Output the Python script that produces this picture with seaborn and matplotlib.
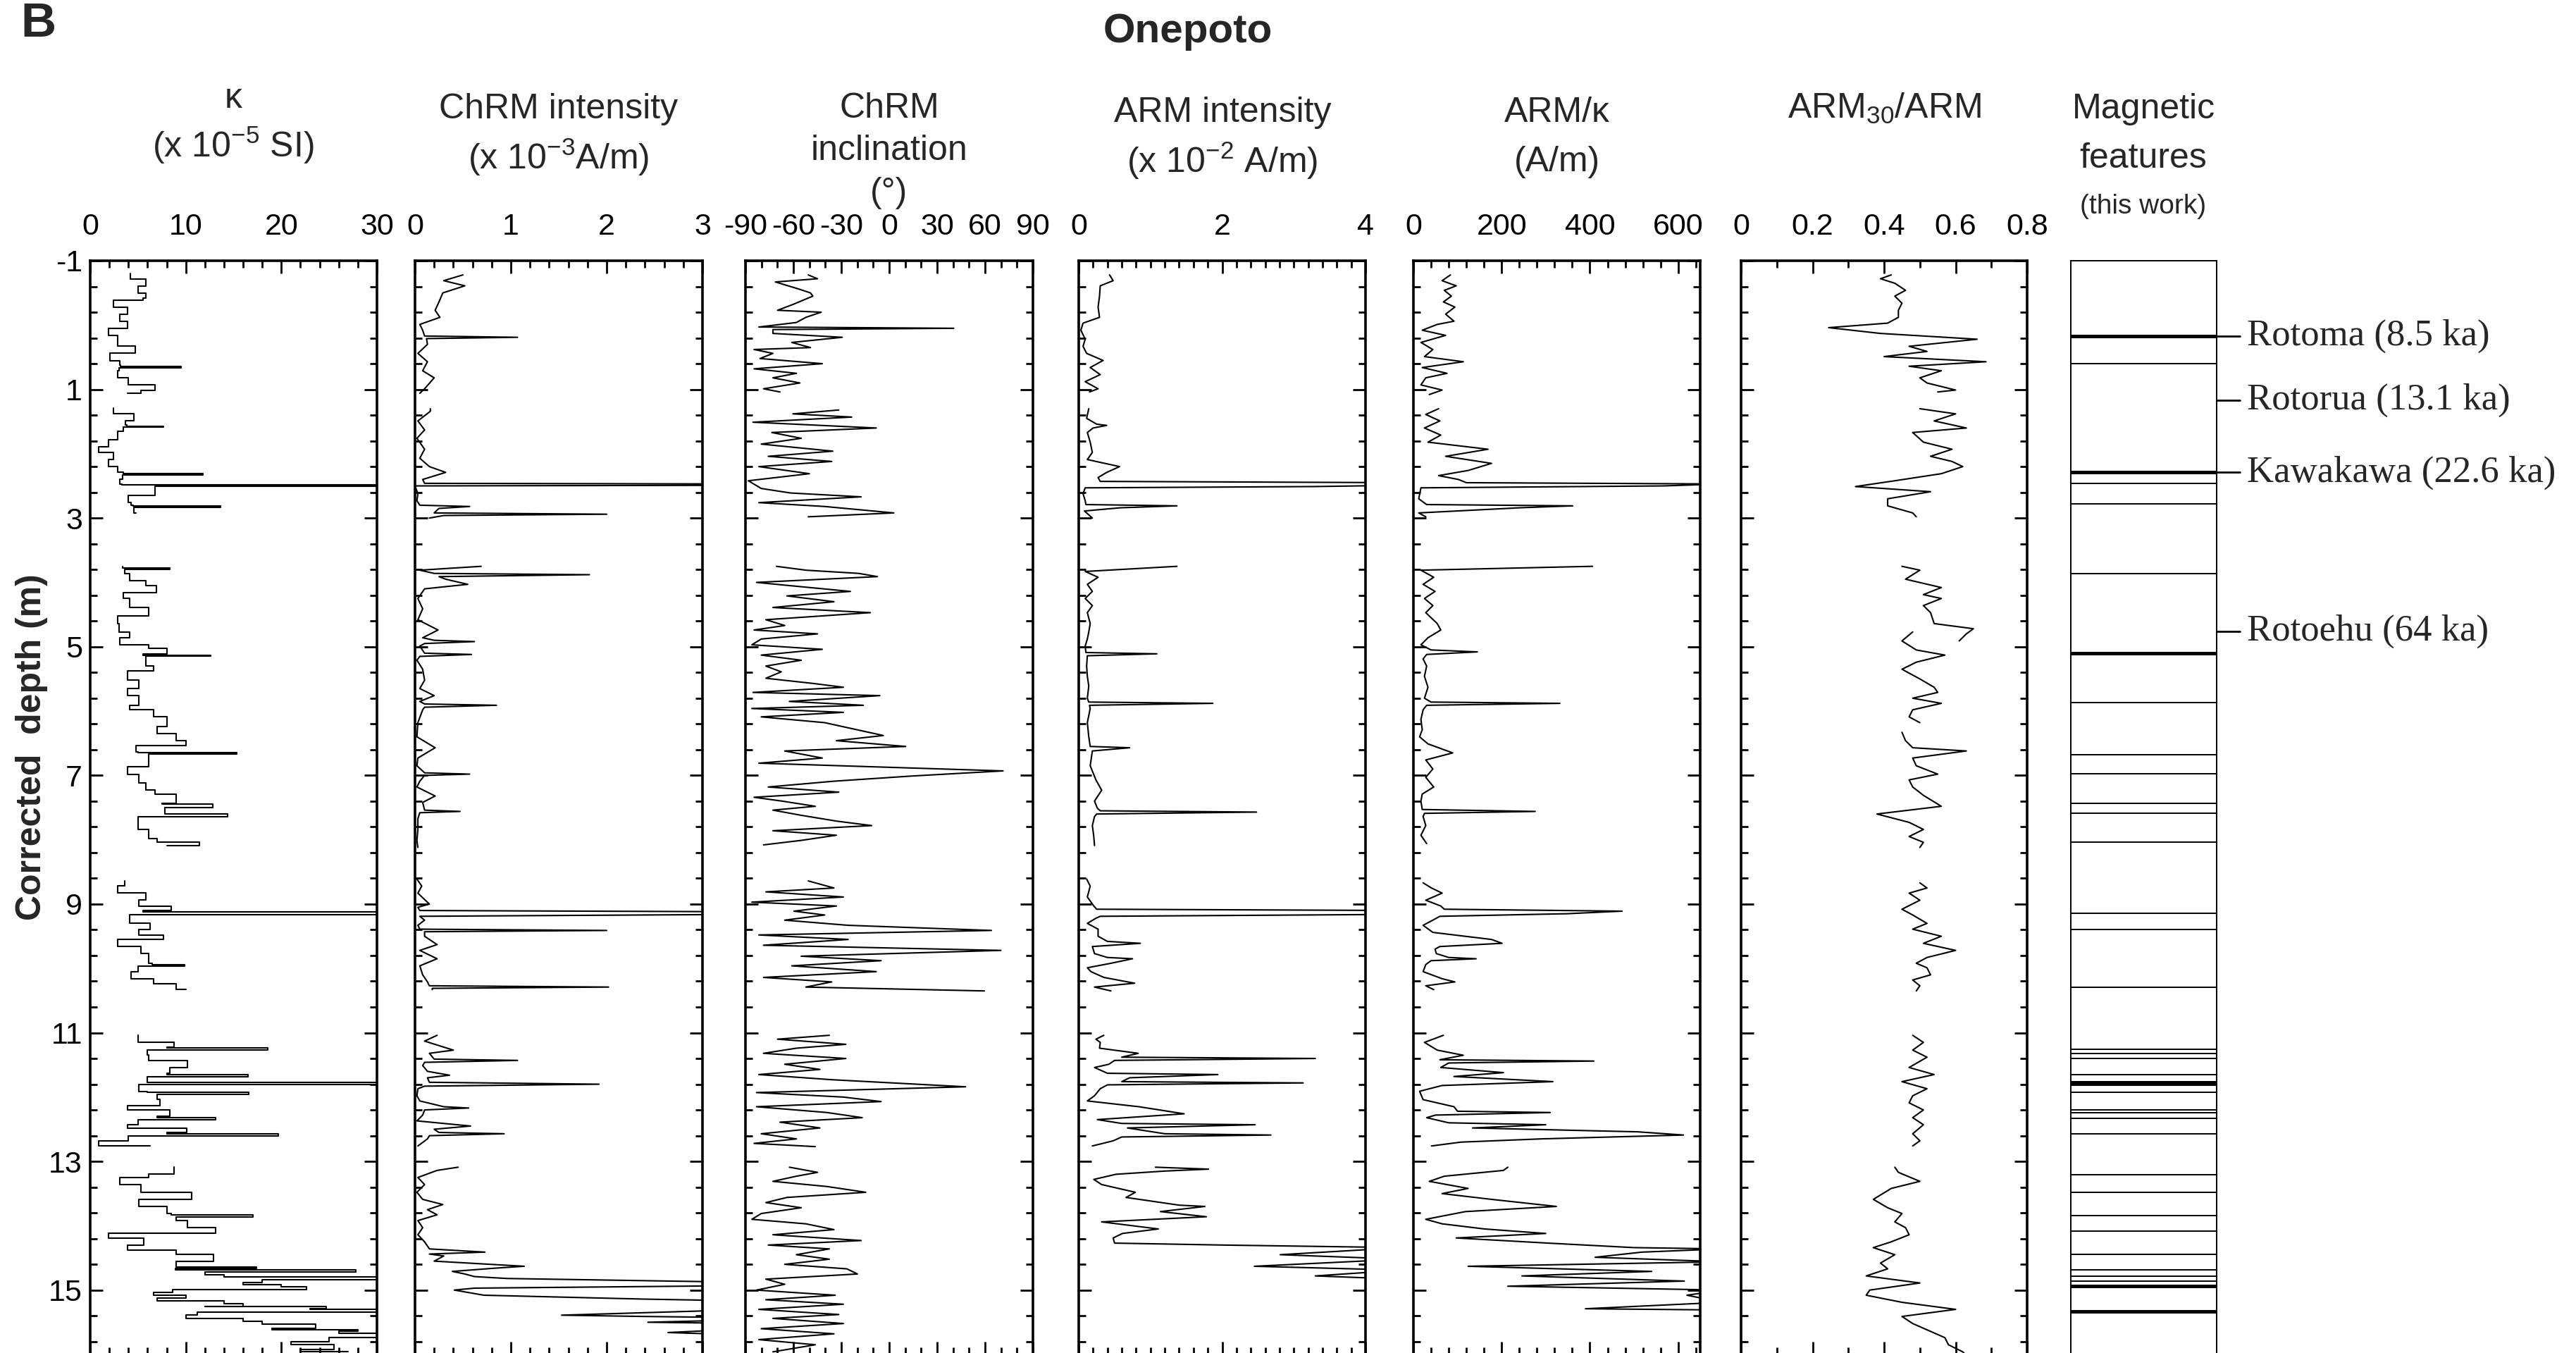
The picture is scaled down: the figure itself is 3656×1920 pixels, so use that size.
import numpy as np
import pandas as pd
import matplotlib
matplotlib.use("Agg")
import matplotlib.pyplot as plt
import matplotlib.transforms as mtransforms
from matplotlib.ticker import FixedLocator, MultipleLocator, FuncFormatter
import seaborn as sns

nan = np.nan

# ---------------- data (depth in m, NaN separates core sections) ----------------
kappa_depth = [-0.80, -0.72, -0.61, -0.50, -0.42, -0.39, -0.28, -0.17, -0.06, 0.05, 0.16, 0.33, 0.44, 0.55, 0.62, 0.64, 0.66,
               0.71, 0.82, 0.93, 1.01, 1.06, nan,
               1.29, 1.38, 1.49, 1.55, 1.57, 1.59, 1.65, 1.78, 1.89, 1.98, 2.09, 2.20, 2.29, 2.31, 2.33, 2.40,
               2.47, 2.48, 2.50, 2.51, 2.56, 2.65, 2.76, 2.80, 2.81, 2.83, 2.92, nan,
               3.75, 3.78, 3.80, 3.86, 3.97, 4.05, 4.16, 4.25, 4.39, 4.52, 4.64, 4.77, 4.86, 4.97, 5.02, 5.11, 5.13,
               5.15, 5.19, 5.30, 5.38, 5.52, 5.65, 5.76, 5.91, 5.98, 6.09, 6.24, 6.35, 6.46, 6.54, 6.63, 6.65, 6.67,
               6.76, 6.87, 6.98, 7.12, 7.23, 7.29, 7.43, 7.45, 7.50, 7.53, 7.60, 7.64, 7.71, 7.84, 7.98, 8.04, 8.09, nan,
               8.64, 8.72, 8.83, 8.94, 9.03, 9.10, 9.12, 9.14, 9.16, 9.22, 9.30, 9.39, 9.48, 9.55, 9.66, 9.77, 9.92,
               9.94, 9.97, 10.05, 10.16, 10.24, 10.33, nan,
               11.04, 11.15, 11.22, 11.24, 11.27, 11.35, 11.43, 11.54, 11.63, 11.65, 11.68, 11.76, 11.77, 11.79, 11.81,
               11.84, 11.91, 11.93, 11.96, 12.04, 12.13, 12.20, 12.30, 12.32, 12.35, 12.43, 12.48, 12.55, 12.57, 12.60,
               12.68, 12.76, nan,
               13.09, 13.20, 13.25, 13.36, 13.48, 13.59, 13.70, 13.81, 13.83, 13.86, 13.92, 14.03, 14.12, 14.19, 14.30,
               14.38, 14.45, 14.55, 14.62, 14.64, 14.66, 14.69, 14.72, 14.76, 14.79, 14.81, 14.84, 14.88, 14.92, 14.95,
               14.99, 15.04, 15.08, 15.12, 15.17, 15.21, 15.25, 15.26, 15.29, 15.30, 15.32, 15.34, 15.39, 15.44, 15.48,
               15.53, 15.59, 15.62, 15.64, 15.67, 15.68, 15.70, 15.74, 15.80, 15.85, 15.92, 15.96]
kappa_vals = [4.2, 5.8, 5.0, 5.8, 5.5, 2.4, 3.9, 3.1, 3.9, 1.9, 2.9, 4.7, 2.1, 3.1, 3.2, 9.5, 3.0,
              2.9, 4.0, 6.8, 5.3, 3.9, nan,
              2.4, 4.6, 3.7, 3.8, 7.7, 3.5, 2.9, 1.9, 0.9, 2.4, 1.9, 2.9, 3.5, 11.8, 3.4, 3.1,
              3.3, 45, 45, 6.8, 6.8, 4.0, 4.3, 4.5, 13.6, 4.6, 4.8, nan,
              3.4, 8.3, 3.6, 4.1, 5.8, 6.9, 3.5, 4.1, 6.1, 2.9, 3.0, 4.1, 3.1, 6.1, 8.0, 5.5, 12.6,
              5.8, 5.8, 6.6, 3.9, 5.1, 3.9, 5.1, 4.1, 6.6, 8.0, 7.0, 9.0, 10.0, 4.8, 5.0, 15.3, 6.1,
              6.1, 3.9, 5.1, 5.8, 6.8, 9.0, 7.5, 12.8, 7.8, 7.8, 14.4, 5.0, 5.0, 6.1, 7.0, 11.4, 8.0, nan,
              3.6, 2.9, 5.8, 5.1, 8.5, 5.5, 45, 45, 4.1, 4.1, 6.3, 5.1, 7.7, 2.9, 5.3, 6.1, 6.5,
              9.9, 5.0, 4.3, 6.6, 9.0, 10.0, nan,
              5.0, 8.8, 8.0, 18.6, 6.0, 6.1, 10.2, 8.3, 8.0, 16.5, 6.0, 6.0, 45, 45, 5.1,
              5.1, 6.0, 16.6, 7.0, 7.3, 3.9, 8.3, 7.0, 13.1, 5.0, 3.9, 10.1, 8.0, 19.7, 4.0,
              0.9, 6.3, nan,
              8.8, 6.1, 3.1, 5.3, 10.6, 5.1, 8.0, 8.5, 17.0, 9.0, 10.2, 13.1, 1.9, 5.6, 3.9,
              9.0, 12.9, 9.0, 9.0, 17.4, 8.9, 27.8, 12.0, 14.0, 45, 45, 18.0, 16.0, 20.0, 22.6,
              8.6, 6.6, 10.0, 7.0, 14.0, 16.0, 12.0, 24.7, 23.0, 45, 45, 11.2, 10.0, 16.0, 18.0,
              23.6, 19.0, 28.0, 26.0, 30.0, 45, 45, 25.0, 21.0, 25.5, 22.0, 27.0]

chrm_int_depth = [-0.78, -0.69, -0.61, -0.50, -0.36, -0.23, -0.12, -0.01, 0.08, 0.17, 0.19, 0.21, 0.30, 0.44, 0.57,
                  0.71, 0.82, 0.99, 1.06, nan,
                  1.30, 1.34, 1.49, 1.63, 1.76, 1.93, 2.07, 2.20, 2.29, 2.40, 2.46, 2.47, 2.49, 2.50, 2.62,
                  2.73, 2.80, 2.82, 2.85, 2.92, 2.94, 2.96, 3.00, nan,
                  3.75, 3.81, 3.86, 3.88, 3.91, 3.95, 4.03, 4.10, 4.25, 4.41, 4.58, 4.74, 4.86, 4.90, 4.92, 4.95,
                  4.99, 5.10, 5.12, 5.15, 5.21, 5.35, 5.52, 5.65, 5.76, 5.85, 5.89, 5.91, 5.94, 5.98, 6.18, 6.40,
                  6.57, 6.73, 6.85, 6.96, 6.98, 7.00, 7.09, 7.18, 7.32, 7.42, 7.54, 7.56, 7.58, 7.67, 7.84, 8.01,
                  8.12, nan,
                  8.61, 8.72, 8.83, 9.00, 9.05, 9.10, 9.12, 9.16, 9.19, 9.25, 9.33, 9.39, 9.41, 9.43, 9.50, 9.63,
                  9.72, 9.85, 9.96, 10.10, 10.21, 10.27, 10.29, 10.31, 10.33, nan,
                  11.04, 11.13, 11.27, 11.32, 11.41, 11.43, 11.46, 11.51, 11.60, 11.66, 11.70, 11.77, 11.80, 11.83,
                  11.87, 11.98, 12.06, 12.15, 12.17, 12.20, 12.28, 12.37, 12.45, 12.50, 12.55, 12.57, 12.60, 12.65,
                  12.76, nan,
                  13.09, 13.14, 13.25, 13.36, 13.48, 13.59, 13.67, 13.75, 13.83, 13.92, 14.03, 14.14, 14.25, 14.36,
                  14.41, 14.44, 14.47, 14.55, 14.63, 14.66, 14.71, 14.75, 14.79, 14.82, 14.88, 14.93, 14.97, 15.00,
                  15.08, 15.14, 15.17, 15.28, 15.39, 15.41, 15.43, 15.46, 15.50, 15.52, 15.60, 15.66, 15.70, 15.90]
chrm_int_vals = [0.50, 0.30, 0.52, 0.29, 0.25, 0.21, 0.26, 0.05, 0.08, 0.10, 1.07, 0.12, 0.13, 0.03, 0.13,
                 0.08, 0.20, 0.10, 0.05, nan,
                 0.16, 0.16, 0.03, 0.10, 0.02, 0.10, 0.05, 0.15, 0.32, 0.08, 0.10, 3.5, 3.5, 0.0, 0.03,
                 0.02, 0.05, 0.57, 0.25, 0.20, 2.0, 0.30, 0.15, nan,
                 0.69, 0.05, 0.20, 1.82, 0.25, 0.32, 0.55, 0.10, 0.03, 0.08, 0.03, 0.24, 0.08, 0.20, 0.62, 0.10,
                 0.05, 0.10, 0.59, 0.05, 0.02, 0.08, 0.10, 0.05, 0.20, 0.05, 0.10, 0.85, 0.10, 0.08, 0.03, 0.02,
                 0.21, 0.03, 0.02, 0.10, 0.57, 0.10, 0.05, 0.02, 0.21, 0.08, 0.10, 0.47, 0.05, 0.03, 0.03, 0.02,
                 0.03, nan,
                 0.02, 0.07, 0.03, 0.15, 0.03, 0.05, 3.5, 3.5, 0.05, 0.10, 0.03, 0.05, 2.0, 0.10, 0.10, 0.23,
                 0.05, 0.23, 0.05, 0.08, 0.13, 0.15, 2.02, 0.18, 0.18, nan,
                 0.23, 0.10, 0.40, 0.15, 0.20, 1.07, 0.10, 0.08, 0.13, 0.36, 0.13, 0.15, 1.92, 0.10,
                 0.03, 0.02, 0.05, 0.30, 0.56, 0.10, 0.08, 0.02, 0.58, 0.20, 0.25, 0.93, 0.15, 0.13,
                 0.03, nan,
                 0.45, 0.23, 0.03, 0.10, 0.02, 0.08, 0.29, 0.13, 0.23, 0.03, 0.08, 0.03, 0.10, 0.15,
                 0.73, 0.15, 0.30, 0.20, 1.14, 0.83, 0.39, 0.52, 0.62, 0.96, 3.5, 3.5, 0.62, 0.41,
                 0.72, 2.38, 3.5, 4.0, 1.53, 2.38, 3.5, 3.5, 2.43, 3.5, 3.5, 2.64, 3.5, 3.5]

incl_depth = [-0.78, -0.72, -0.67, -0.56, -0.50, -0.45, -0.32, -0.23, -0.20, -0.12, -0.04, 0.03, 0.05, 0.07, 0.13,
              0.19, 0.27, 0.35, 0.38, 0.44, 0.52, 0.60, 0.68, 0.75, 0.82, 0.90, 0.99, 1.04, nan,
              1.32, 1.38, 1.43, 1.51, 1.60, 1.67, 1.76, 1.85, 1.96, 2.04, 2.12, 2.20, 2.31, 2.42, 2.54, 2.61, 2.67,
              2.76, 2.82, 2.92, 2.98, nan,
              3.75, 3.81, 3.86, 3.91, 4.00, 4.06, 4.14, 4.21, 4.30, 4.39, 4.47, 4.58, 4.67, 4.74, 4.80, 4.88, 4.97,
              5.04, 5.13, 5.21, 5.30, 5.39, 5.49, 5.57, 5.63, 5.71, 5.76, 5.85, 5.91, 5.96, 6.02, 6.09, 6.18, 6.38,
              6.46, 6.55, 6.62, 6.73, 6.81, 6.87, 6.93, 7.01, 7.09, 7.18, 7.26, 7.34, 7.40, 7.48, 7.54, 7.62, 7.71,
              7.78, 7.86, 7.93, 8.01, 8.08, nan,
              8.64, 8.75, 8.81, 8.89, 8.97, 9.03, 9.11, 9.17, 9.25, 9.33, 9.41, 9.48, 9.55, 9.64, 9.72, 9.81, 9.88,
              9.96, 10.05, 10.14, 10.21, 10.29, 10.35, nan,
              11.04, 11.10, 11.18, 11.24, 11.32, 11.40, 11.49, 11.57, 11.65, 11.73, 11.84, 11.93, 12.00, 12.07,
              12.15, 12.24, 12.32, 12.39, 12.48, 12.57, 12.65, 12.72, 12.77, nan,
              13.09, 13.17, 13.23, 13.31, 13.39, 13.48, 13.56, 13.64, 13.72, 13.81, 13.90, 13.97, 14.06, 14.14,
              14.23, 14.30, 14.36, 14.45, 14.52, 14.60, 14.67, 14.75, 14.83, 14.91, 15.00, 15.08, 15.15, 15.22,
              15.30, 15.38, 15.44, 15.52, 15.60, 15.68, 15.77, 15.85, 15.96]
incl_vals = [-50.7, -44.9, -71.3, -56.6, -49.3, -47.8, -60.3, -69.9, -42.6, -52.2, -58.1, -81.6, 40.4, -72.8, -72.8,
             -29.4, -61.0, -49.3, -84.6, -72.8, -80.9, -41.9, -84.6, -58.1, -72.8, -55.9, -78.7, -68.4, nan,
             -31.6, -60.3, -23.5, -85.3, -8.1, -73.5, -55.1, -80.1, -35.3, -75.7, -36.0, -81.6, -50.0, -88.2, -80.1,
             -61.8, -17.6, -81.6, -40.4, 2.9, -50.7, nan,
             -70.6, -52.2, -19.1, -7.4, -83.1, -58.1, -24.3, -64.0, -34.6, -72.8, -11.8, -77.2, -65.4, -84.6, -44.9,
             -80.1, -86.0, -41.9, -80.1, -55.1, -77.2, -67.6, -77.2, -47.8, -28.7, -85.3, -5.9, -62.5, -16.2, -86.0,
             -28.7, -80.1, -40.4, -3.7, -33.1, 10.3, -65.4, -41.9, -81.6, -5.1, 71.3, 14.0, -34.6, -75.7, -31.6,
             -84.6, -66.9, -46.3, -72.8, -55.1, -33.1, -11.0, -72.8, -33.1, -55.1, -78.7, nan,
             -50.7, -34.6, -77.2, -28.7, -86.0, -33.1, -59.6, -40.4, -65.4, -25.7, 64.0, -81.6, -25.7, -78.7, 69.9,
             -55.1, -5.1, -61.0, -8.1, -78.7, -36.0, -52.2, 59.6, nan,
             -37.5, -69.9, -27.2, -58.1, -78.7, -27.2, -65.4, -43.4, -81.6, -36.0, 47.8, -83.1, -28.7, -5.1,
             -83.1, -39.0, -16.9, -68.4, -43.4, -80.1, -58.1, -84.6, -46.3, nan,
             -62.5, -44.9, -58.1, -72.8, -39.0, -14.7, -64.0, -77.2, -55.1, -80.1, -86.0, -52.2, -34.6, -72.8,
             -17.6, -75.7, -37.5, -58.1, -37.5, -65.4, -26.5, -19.9, -77.2, -65.4, -83.1, -33.8, -77.2, -28.7,
             -81.6, -31.6, -72.8, -28.7, -80.1, -34.6, -81.6, -46.3, -72.8]

arm_depth = [-0.78, -0.69, -0.61, -0.45, -0.28, -0.12, -0.03, 0.08, 0.22, 0.33, 0.44, 0.55, 0.66, 0.77, 0.88, 0.99,
             1.04, nan,
             1.30, 1.45, 1.54, 1.56, 1.60, 1.67, 1.82, 1.98, 2.09, 2.20, 2.29, 2.37, 2.43, 2.45, 2.49, 2.51, 2.53,
             2.62, 2.73, 2.79, 2.81, 2.84, 2.89, 3.00, nan,
             3.75, 3.83, 3.92, 4.03, 4.14, 4.25, 4.36, 4.47, 4.64, 4.77, 4.88, 4.99, 5.09, 5.11, 5.14, 5.30, 5.46,
             5.61, 5.80, 5.86, 5.88, 5.91, 5.96, 6.18, 6.40, 6.55, 6.57, 6.62, 6.85, 7.07, 7.23, 7.40, 7.51, 7.55,
             7.57, 7.60, 7.64, 7.78, 7.95, 8.09, nan,
             8.61, 8.72, 8.89, 9.03, 9.08, 9.10, 9.16, 9.19, 9.22, 9.30, 9.39, 9.50, 9.58, 9.61, 9.66, 9.77, 9.83,
             9.85, 9.92, 9.99, 10.05, 10.14, 10.23, 10.29, 10.35, nan,
             11.04, 11.10, 11.15, 11.24, 11.32, 11.38, 11.40, 11.43, 11.49, 11.54, 11.63, 11.65, 11.70, 11.76,
             11.78, 11.81, 11.87, 11.98, 12.06, 12.15, 12.26, 12.35, 12.41, 12.43, 12.48, 12.57, 12.59, 12.62,
             12.68, 12.76, nan,
             13.09, 13.12, 13.15, 13.20, 13.28, 13.36, 13.48, 13.56, 13.68, 13.70, 13.78, 13.86, 13.94, 14.05,
             14.12, 14.19, 14.27, 14.30, 14.34, 14.45, 14.52, 14.63, 14.69, 14.78, 14.83]
arm_vals = [0.43, 0.48, 0.30, 0.29, 0.27, 0.29, 0.06, 0.03, 0.09, 0.06, 0.11, 0.34, 0.16, 0.30, 0.09, 0.27,
            0.15, nan,
            0.14, 0.11, 0.25, 0.39, 0.20, 0.12, 0.16, 0.19, 0.12, 0.57, 0.39, 0.27, 0.30, 4.5, 4.5, 3.3, 0.09,
            0.06, 0.09, 0.10, 1.37, 0.58, 0.08, 0.19, nan,
            1.37, 0.09, 0.27, 0.12, 0.19, 0.09, 0.19, 0.12, 0.16, 0.14, 0.12, 0.09, 0.10, 1.09, 0.12, 0.11, 0.12,
            0.14, 0.12, 0.14, 1.87, 0.15, 0.16, 0.12, 0.14, 0.16, 0.71, 0.19, 0.16, 0.24, 0.32, 0.22, 0.26, 0.30,
            2.48, 0.25, 0.22, 0.19, 0.21, 0.22, nan,
            0.11, 0.16, 0.12, 0.21, 0.25, 4.5, 4.5, 0.30, 0.24, 0.12, 0.27, 0.27, 0.40, 0.86, 0.19, 0.22, 0.40,
            0.75, 0.45, 0.12, 0.17, 0.35, 0.78, 0.22, 0.45, nan,
            0.35, 0.24, 0.30, 0.29, 0.83, 0.60, 3.30, 0.50, 0.42, 0.22, 0.40, 1.94, 0.71, 0.60,
            3.13, 0.40, 0.30, 0.22, 0.12, 0.84, 1.47, 0.26, 0.60, 2.46, 0.68, 1.20, 2.68, 0.60,
            0.48, 0.19, nan,
            1.07, 1.81, 1.20, 0.52, 0.21, 0.32, 0.79, 0.66, 1.40, 1.76, 1.14, 1.78, 0.32, 1.11,
            0.61, 0.48, 0.50, 2.0, 4.5, 2.81, 4.5, 2.45, 4.5, 3.30, 4.5]

armk_depth = [-0.78, -0.69, -0.61, -0.54, -0.45, -0.36, -0.28, -0.17, -0.06, -0.01, 0.08, 0.16, 0.27, 0.38, 0.49,
              0.57, 0.66, 0.75, 0.82, 0.93, 1.01, 1.08, nan,
              1.30, 1.39, 1.49, 1.60, 1.71, 1.82, 1.93, 2.04, 2.15, 2.26, 2.34, 2.40, 2.45, 2.47, 2.50, 2.53, 2.70,
              2.79, 2.81, 2.84, 2.92, 2.98, nan,
              3.75, 3.81, 3.92, 4.03, 4.14, 4.25, 4.36, 4.47, 4.64, 4.74, 4.86, 4.97, 5.05, 5.08, 5.12, 5.19, 5.30,
              5.46, 5.63, 5.80, 5.86, 5.88, 5.91, 5.98, 6.13, 6.29, 6.40, 6.51, 6.65, 6.76, 6.90, 7.03, 7.18, 7.29,
              7.40, 7.53, 7.56, 7.59, 7.64, 7.78, 7.93, 8.06, nan,
              8.67, 8.75, 8.83, 8.94, 9.03, 9.08, 9.11, 9.15, 9.19, 9.25, 9.33, 9.44, 9.55, 9.61, 9.66, 9.70, 9.77,
              9.83, 9.85, 9.88, 9.94, 10.05, 10.16, 10.21, 10.27, 10.33, nan,
              11.04, 11.15, 11.27, 11.35, 11.42, 11.44, 11.47, 11.54, 11.62, 11.68, 11.76, 11.82, 11.91, 12.04,
              12.15, 12.22, 12.24, 12.28, 12.32, 12.40, 12.43, 12.48, 12.54, 12.59, 12.65, 12.70, 12.76, nan,
              13.09, 13.14, 13.23, 13.31, 13.42, 13.50, 13.59, 13.70, 13.78, 13.90, 13.97, 14.05, 14.12, 14.19,
              14.27, 14.34, 14.36, 14.41, 14.49, 14.56, 14.63, 14.71, 14.78, 14.86, 14.94, 15.00, 15.08, 15.19,
              15.29, 15.31]
armk_vals = [84, 65, 97, 70, 86, 68, 94, 73, 92, 54, 20, 73, 17, 44, 25,
             113, 20, 76, 28, 17, 65, 36, nan,
             57, 28, 60, 25, 62, 33, 169, 73, 177, 124, 57, 102, 120, 700, 566, 17, 12,
             30, 361, 241, 12, 28, nan,
             406, 17, 46, 22, 49, 25, 44, 28, 54, 62, 33, 17, 40, 145, 30, 22, 30,
             25, 33, 25, 40, 332, 30, 22, 17, 20, 14, 33, 89, 28, 44, 28, 46, 20,
             17, 20, 276, 25, 22, 28, 17, 30, nan,
             22, 41, 65, 28, 62, 70, 473, 348, 60, 44, 22, 44, 177, 201, 60, 49, 52,
             80, 142, 40, 28, 22, 65, 94, 28, 46, nan,
             68, 25, 54, 113, 60, 409, 80, 62, 204, 92, 316, 65, 14, 22,
             92, 100, 310, 50, 30, 80, 300, 134, 508, 612, 289, 108, 41, nan,
             214, 204, 70, 36, 124, 65, 177, 324, 118, 28, 65, 161, 300, 97,
             305, 500, 700, 518, 412, 700, 124, 540, 246, 614, 214, 700, 620, 700,
             390, 700]

arm30_depth = [-0.78, -0.72, -0.65, -0.54, -0.45, -0.34, -0.23, -0.12, -0.03, 0.04, 0.13, 0.22, 0.33, 0.41, 0.49,
               0.57, 0.64, 0.71, 0.82, 0.90, 1.01, 1.04, nan,
               1.30, 1.38, 1.49, 1.60, 1.67, 1.82, 1.93, 2.04, 2.12, 2.20, 2.31, 2.42, 2.51, 2.59, 2.70, 2.81, 2.92,
               2.98, nan,
               3.75, 3.81, 3.95, 4.08, 4.19, 4.25, 4.36, 4.47, 4.64, 4.72, 4.80, 4.91, nan,
               4.77, 4.91, 5.05, 5.13, 5.24, 5.35, 5.50, 5.63, 5.71, 5.80, 5.88, 5.98, 6.09, 6.18, nan,
               6.33, 6.46, 6.57, 6.62, 6.73, 6.85, 6.98, 7.07, 7.18, 7.31, 7.48, 7.60, 7.73, 7.84, 7.95, 8.04, 8.12, nan,
               8.67, 8.75, 8.83, 8.94, 9.08, 9.17, 9.30, 9.39, 9.50, 9.61, 9.72, 9.83, 9.92, 9.99, 10.10, 10.18,
               10.27, 10.35, nan,
               11.04, 11.15, 11.27, 11.38, 11.54, 11.65, 11.76, 11.87, 11.98, 12.09, 12.20, 12.32, 12.43, 12.57,
               12.68, 12.76, nan,
               13.09, 13.17, 13.31, 13.42, 13.59, 13.72, 13.81, 13.94, 14.03, 14.14, 14.25, 14.34, 14.45, 14.58,
               14.67, 14.78, 14.89, 15.00, 15.08, 15.19, 15.30, 15.41, 15.52, 15.74, 15.85, 15.96, 16.07]
arm30_vals = [0.42, 0.39, 0.43, 0.46, 0.43, 0.45, 0.44, 0.44, 0.41, 0.245, 0.39, 0.66, 0.47, 0.52, 0.40,
              0.685, 0.47, 0.56, 0.50, 0.52, 0.60, 0.55, nan,
              0.50, 0.60, 0.54, 0.63, 0.48, 0.51, 0.59, 0.53, 0.59, 0.62, 0.56, 0.43, 0.32, 0.53, 0.41, 0.41, 0.48,
              0.49, nan,
              0.45, 0.50, 0.46, 0.56, 0.51, 0.56, 0.51, 0.53, 0.54, 0.65, 0.63, 0.61, nan,
              0.48, 0.45, 0.49, 0.57, 0.49, 0.45, 0.50, 0.54, 0.55, 0.48, 0.56, 0.48, 0.47, 0.50, nan,
              0.45, 0.46, 0.48, 0.63, 0.48, 0.49, 0.55, 0.47, 0.48, 0.51, 0.56, 0.38, 0.47, 0.51, 0.47, 0.51, 0.50, nan,
              0.50, 0.52, 0.47, 0.50, 0.45, 0.48, 0.52, 0.48, 0.56, 0.51, 0.60, 0.52, 0.49, 0.52, 0.53, 0.48,
              0.50, 0.49, nan,
              0.48, 0.51, 0.48, 0.52, 0.47, 0.54, 0.45, 0.52, 0.48, 0.47, 0.51, 0.48, 0.51, 0.48,
              0.50, 0.48, nan,
              0.43, 0.44, 0.50, 0.42, 0.37, 0.41, 0.45, 0.43, 0.46, 0.47, 0.42, 0.37, 0.43, 0.39,
              0.41, 0.35, 0.50, 0.36, 0.35, 0.45, 0.60, 0.45, 0.48, 0.57, 0.58, 0.62, 0.64]

feature_thin = [0.60, 2.46, 2.78, 3.86, 5.87, 6.68, 6.97, 7.43, 7.59, 8.04, 9.14, 9.40, 10.29, 11.26, 11.32, 11.40,
                11.65, 11.82, 11.93, 12.20, 12.24, 12.33, 12.57, 13.21, 13.48, 13.84, 14.08, 14.44, 14.69, 14.78,
                14.86]
feature_thick = [0.17, 2.29, 5.10, 11.77, 14.94, 15.33]
tephra_names = ["Rotoma (8.5 ka)", "Rotorua (13.1 ka)", "Kawakawa (22.6 ka)", "Rotoehu (64 ka)"]
tephra_depths = [0.17, 1.17, 2.29, 4.76]

# ---------------- style ----------------
sns.set_style("ticks")
plt.rcParams["font.family"] = ["Liberation Sans", "DejaVu Sans"]
plt.rcParams["mathtext.fontset"] = "custom"
plt.rcParams["mathtext.rm"] = "Liberation Sans"
plt.rcParams["mathtext.it"] = "Liberation Sans:italic"
plt.rcParams["mathtext.bf"] = "Liberation Sans:bold"
plt.rcParams["axes.unicode_minus"] = False

W, H = 3656, 1920
DPI = 200
fig = plt.figure(figsize=(W / DPI, H / DPI), dpi=DPI)
fig.patch.set_facecolor("white")

TOP, BOT = 370, 1922
panels_px = [(128, 535), (589, 997), (1058, 1466), (1531, 1938), (2006, 2413), (2471, 2877), (2939, 3146)]


def make_ax(l, r):
    return fig.add_axes([l / W, 1 - BOT / H, (r - l) / W, (BOT - TOP) / H])


def draw(ax, depth, vals, **kw):
    d = np.asarray(depth, float)
    v = np.asarray(vals, float)
    seg = np.cumsum(np.isnan(d))
    m = ~np.isnan(d)
    df = pd.DataFrame({"depth": d[m], "val": v[m], "seg": seg[m]})
    sns.lineplot(data=df, x="val", y="depth", units="seg", estimator=None, sort=False,
                 color="black", linewidth=0.75, ax=ax, legend=False, **kw)


series = [(kappa_depth, kappa_vals, (0, 30), 10, 2, {"drawstyle": "steps-pre"}),
          (chrm_int_depth, chrm_int_vals, (0, 3), 1, 0.2, {}),
          (incl_depth, incl_vals, (-90, 90), 30, 10, {}),
          (arm_depth, arm_vals, (0, 4), 2, 0.2, {}),
          (armk_depth, armk_vals, (0, 650), 200, 40, {}),
          (arm30_depth, arm30_vals, (0, 0.8), 0.2, 0.1, {})]

fmt = FuncFormatter(lambda v, p: f"{v:g}")
axes = []
for i, (dep, val, xl, maj, mnr, kw) in enumerate(series):
    l, r = panels_px[i]
    ax = make_ax(l, r)
    draw(ax, dep, val, **kw)
    ax.set_xlim(*xl)
    ax.set_ylim(16, -1)
    ax.set_xlabel("")
    ax.set_ylabel("")
    ax.xaxis.set_major_locator(MultipleLocator(maj))
    ax.xaxis.set_minor_locator(MultipleLocator(mnr))
    ax.xaxis.set_major_formatter(fmt)
    ax.yaxis.set_major_locator(FixedLocator(np.arange(-1, 16, 2)))
    ax.yaxis.set_minor_locator(FixedLocator(np.arange(-1, 16.01, 0.4)))
    ax.tick_params(axis="both", which="both", direction="in", top=True, bottom=True, left=True, right=True,
                   width=1.0, colors="black")
    ax.tick_params(axis="both", which="major", length=6.5)
    ax.tick_params(axis="both", which="minor", length=3.5)
    ax.tick_params(axis="x", labeltop=True, labelbottom=False, labelsize=15.5, pad=10)
    ax.tick_params(axis="y", labelleft=(i == 0), labelright=False, labelsize=15.5, pad=4)
    for s in ax.spines.values():
        s.set_linewidth(1.3)
        s.set_color("black")
    ax.set_facecolor("white")
    axes.append(ax)

# magnetic features column
l, r = panels_px[6]
ax7 = make_ax(l, r)
for group, lw in ((feature_thin, 0.7), (feature_thick, 1.8)):
    dfl = pd.DataFrame({"x": np.tile([0.0, 1.0], len(group)),
                        "depth": np.repeat(group, 2),
                        "u": np.repeat(np.arange(len(group)), 2)})
    sns.lineplot(data=dfl, x="x", y="depth", units="u", estimator=None, sort=False,
                 color="black", linewidth=lw, ax=ax7, legend=False)
ax7.set_xlim(0, 1)
ax7.set_ylim(16, -1)
ax7.set_xticks([])
ax7.set_yticks([])
ax7.set_xlabel("")
ax7.set_ylabel("")
for s in ax7.spines.values():
    s.set_linewidth(0.7)
    s.set_color("black")

trans = mtransforms.blended_transform_factory(ax7.transAxes, ax7.transData)
x_end = (3179 - l) / (r - l)
x_txt = (3189 - l) / (r - l)
for name, dd in zip(tephra_names, tephra_depths):
    ax7.plot([1.0, x_end], [dd, dd], color="black", lw=1.0, transform=trans, clip_on=False)
    ax7.text(x_txt, dd, name, transform=trans, ha="left", va="center",
             fontsize=19, family=["Liberation Serif", "DejaVu Serif"])

# ---------------- texts ----------------
def ftext(x, y, s, **kw):
    fig.text(x / W, 1 - y / H, s, **kw)

hdr = dict(ha="center", va="baseline", fontsize=18)
ftext(331, 153, "κ", **hdr)
ftext(331, 223, r"(x 10$^{-5}$ SI)", **hdr)
ftext(793, 168, "ChRM intensity", **hdr)
ftext(793, 240, r"(x 10$^{-3}$A/m)", **hdr)
ftext(1262, 167, "ChRM", **hdr)
ftext(1262, 227, "inclination", **hdr)
ftext(1262, 287, "(°)", **hdr)
ftext(1735, 173, "ARM intensity", **hdr)
ftext(1735, 245, r"(x 10$^{-2}$ A/m)", **hdr)
ftext(2210, 173, "ARM/κ", **hdr)
ftext(2210, 243, "(A/m)", **hdr)
ftext(2674, 168, r"ARM$_{30}$/ARM", **hdr)
ftext(3042, 168, "Magnetic", **hdr)
ftext(3042, 238, "features", **hdr)
ftext(3042, 303, "(this work)", ha="center", va="baseline", fontsize=14)

ftext(1686, 60, "Onepoto", ha="center", va="baseline", fontsize=21, fontweight="bold")
ftext(29, 52, "B", ha="left", va="baseline", fontsize=25, fontweight="bold")
ftext(45, 1060, "Corrected  depth (m)", ha="center", va="center", rotation=90, fontsize=18, fontweight="bold")

fig.savefig("out.png", dpi=DPI, facecolor="white")
